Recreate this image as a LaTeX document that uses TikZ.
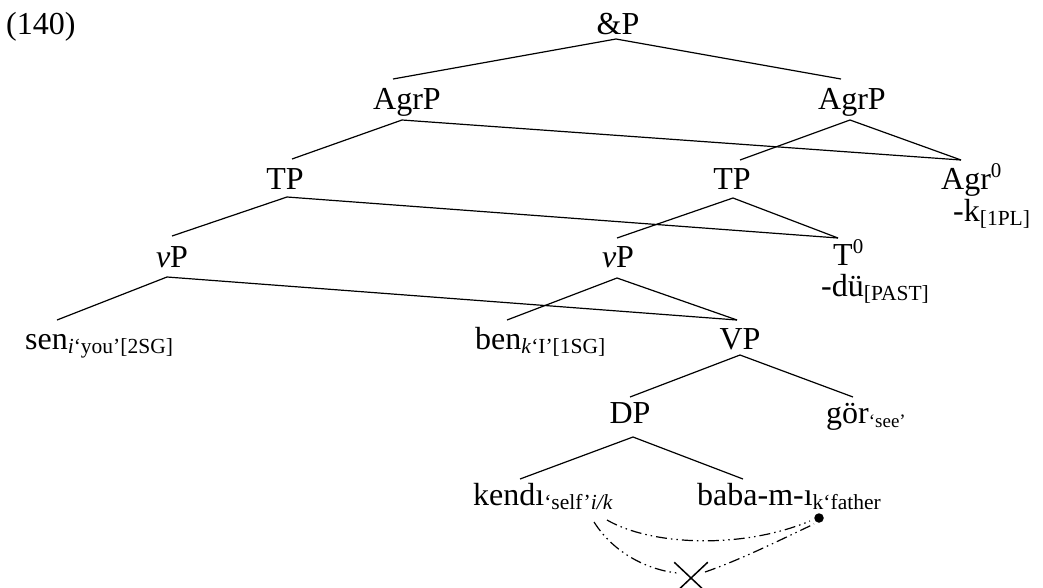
\documentclass[tikz,border=0pt]{standalone}
\usepackage{fontspec}
\setmainfont{Liberation Serif}
\usetikzlibrary{calc,shapes.misc}
\newcommand\lsb[1]{\raisebox{-4pt}{\fontsize{21.5}{21.5}\selectfont #1}}
\newcommand\lsp[1]{\raisebox{12pt}{\fontsize{21}{21}\selectfont #1}}
\begin{document}
\begin{tikzpicture}[x=1pt,y=-1pt,
  lab/.style={font=\fontsize{32}{32}\selectfont, inner sep=0pt, anchor=base},
  labw/.style={lab, anchor=base west},
  edge/.style={line width=1.2pt},
  bind/.style={line width=1.2pt, dash pattern=on 11pt off 4pt on 1.5pt off 4pt on 1.5pt off 4pt}]
\useasboundingbox (0,0) rectangle (1043,587);
\node[labw] (ex) at (6,34) {(140)};
\node[lab] (andP) at (618,34) {\&P};
\node[lab] (agrL) at (407,109) {AgrP};
\node[lab] (agrR) at (852,109) {AgrP};
\node[lab] (tpL) at (285,189) {TP};
\node[lab] (tpR) at (732,189) {TP};
\node[labw] (agr0) at (941,189) {Agr\lsp{0}};
\node[labw] (k1) at (953,221) {-k\lsb{[1PL]}};
\node[lab] (vpL) at (172,267) {\textit{v}P};
\node[lab] (vpR) at (618,267) {\textit{v}P};
\node[labw] (t0) at (833,265) {T\lsp{0}};
\node[labw] (du) at (821,296) {-dü\lsb{[PAST]}};
\node[labw] (sen) at (25,349) {sen\lsb{\textit{i}‘you’[2SG]}};
\node[labw] (ben) at (475,349) {ben\lsb{\textit{k}‘I’[1SG]}};
\node[lab] (VP) at (740,349) {VP};
\node[lab] (DP) at (630,423) {DP};
\node[labw] (gor) at (826,423) {gör\raisebox{-4pt}{\fontsize{19}{19}\selectfont‘see’}};
\node[labw] (kendi) at (473,505) {kendı\lsb{‘self’\textit{i/k}}};
\node[labw] (baba) at (697,505) {baba-m-ı\lsb{k‘father}};
\node[circle, fill, inner sep=0pt, minimum size=9.5pt] (dot) at (819,518) {};
\node[cross out, draw, line width=1.5pt, inner sep=0pt, minimum width=32pt, minimum height=30pt] (cross) at (691,578) {};
% tree edges
\draw[edge] ($(andP.base)+(-2,5)$) -- ($(agrL.base)+(-14,-30)$);
\draw[edge] ($(andP.base)+(-2,5)$) -- ($(agrR.base)+(-11,-30)$);
\draw[edge] ($(agrL.base)+(-5,11)$) -- ($(tpL.base)+(7,-30)$);
\draw[edge] ($(agrL.base)+(-5,11)$) -- ($(agr0.base west)+(20,-29)$);
\draw[edge] ($(agrR.base)+(-2,11)$) -- ($(tpR.base)+(8,-29)$);
\draw[edge] ($(agrR.base)+(-2,11)$) -- ($(agr0.base west)+(20,-29)$);
\draw[edge] ($(tpL.base)+(2,8)$) -- ($(vpL.base)+(0,-31)$);
\draw[edge] ($(tpL.base)+(2,8)$) -- ($(t0.base west)+(5,-27)$);
\draw[edge] ($(tpR.base)+(1,9)$) -- ($(vpR.base)+(-1,-29)$);
\draw[edge] ($(tpR.base)+(1,9)$) -- ($(t0.base west)+(5,-27)$);
\draw[edge] ($(vpL.base)+(-5,10)$) -- ($(sen.base west)+(32,-29)$);
\draw[edge] ($(vpL.base)+(-5,10)$) -- ($(VP.base)+(-3,-29)$);
\draw[edge] ($(vpR.base)+(-1,11)$) -- ($(ben.base west)+(32,-29)$);
\draw[edge] ($(vpR.base)+(-1,11)$) -- ($(VP.base)+(-3,-29)$);
\draw[edge] ($(VP.base)+(0,6)$) -- ($(DP.base)+(0,-26)$);
\draw[edge] ($(VP.base)+(0,6)$) -- ($(gor.base west)+(27,-26)$);
\draw[edge] ($(DP.base)+(3,14)$) -- ($(kendi.base west)+(47,-26)$);
\draw[edge] ($(DP.base)+(3,14)$) -- ($(baba.base west)+(46,-26)$);
% binding lines
\draw[bind] ($(kendi.base west)+(134,15)$) .. controls (650,545) and (740,550) .. ($(dot.center)+(-9,3)$);
\draw[bind] ($(kendi.base west)+(121,17)$) .. controls (615,555) and (650,570) .. ($(cross.center)+(-14,-5)$);
\draw[bind] ($(cross.center)+(14,-6)$) .. controls (740,560) and (780,540) .. ($(dot.center)+(-5,6)$);
\end{tikzpicture}
\end{document}
